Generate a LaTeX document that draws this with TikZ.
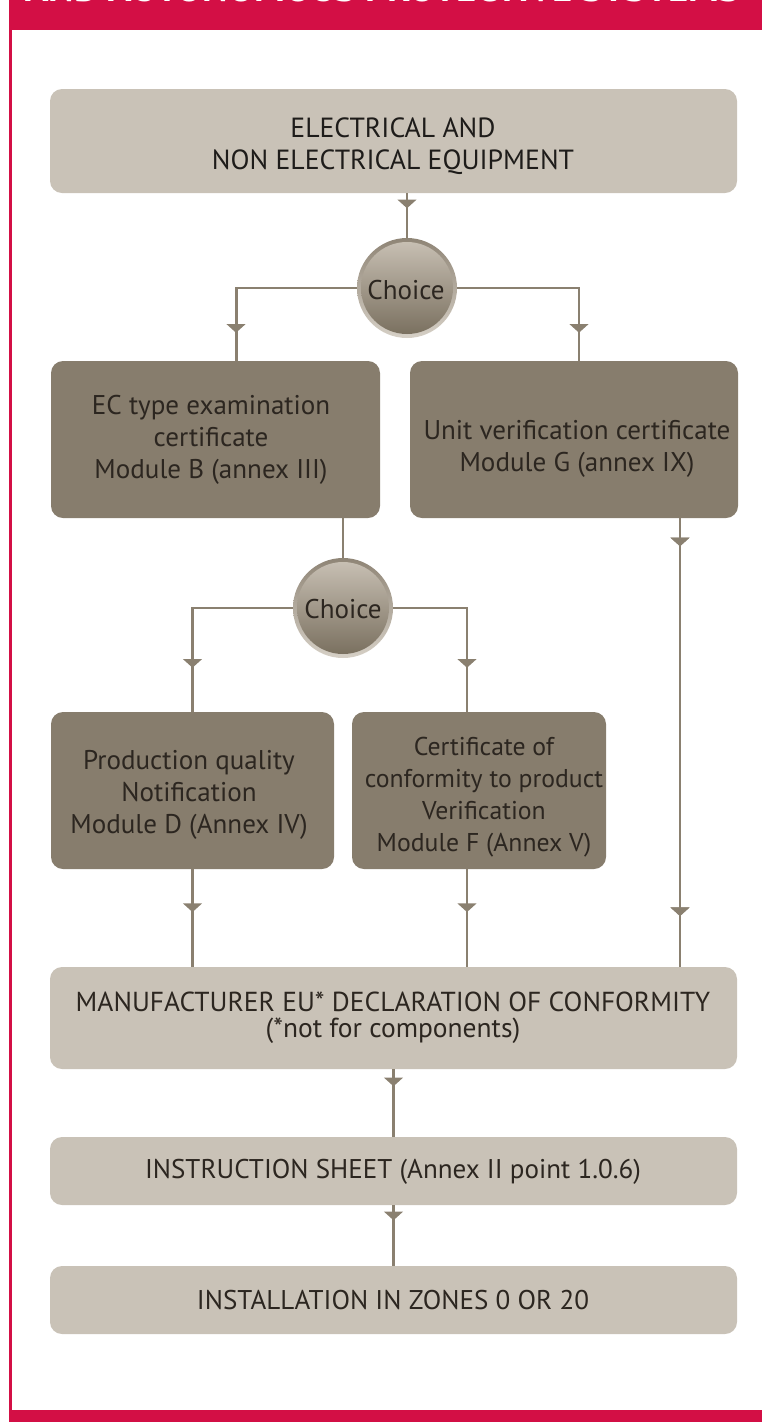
\documentclass[tikz,border=0pt]{standalone}
\usepackage{fontspec}
\setmainfont{PT Sans}
\usetikzlibrary{arrows.meta,decorations.markings}
\definecolor{hdr}{HTML}{D30F45}
\definecolor{lightbox}{HTML}{C9C2B7}
\definecolor{darkbox}{HTML}{877D6D}
\definecolor{wirecol}{HTML}{8A8070}
\definecolor{txt}{HTML}{2C2620}
\definecolor{toptxt}{HTML}{1E1C1A}
\definecolor{ringtop}{HTML}{8F8576}
\definecolor{ringbot}{HTML}{D6D0C6}
\definecolor{balltop}{HTML}{CAC2B6}
\definecolor{ballbot}{HTML}{776D5C}
\tikzset{
  lbox/.style={fill=lightbox, rounded corners=9pt, inner sep=0pt, minimum width=515.25pt},
  dbox/.style={fill=darkbox, rounded corners=9pt, inner sep=0pt, minimum height=117.75pt},
  lbl/.style={align=center, text=txt, inner sep=0pt, font=\fontsize{20.3}{24}\selectfont},
  choice/.style={circle, minimum size=75pt, inner sep=0pt, top color=ringtop, bottom color=ringbot,
    path picture={\shade[top color=balltop, bottom color=ballbot] (path picture bounding box.center) circle (34.5pt);}},
  wire/.style={draw=wirecol, line width=2.2pt},
  tipat/.style={postaction={decorate}, decoration={markings, mark=at position #1 with {\arrow{Triangle[width=14pt,length=6.5pt]}}}},
}
\begin{document}
\begin{tikzpicture}[x=0.75pt,y=-0.75pt]
\useasboundingbox (0,0) rectangle (762,1422);
\clip (0,0) rectangle (762,1422);
% frame
\fill[hdr] (9,0) rectangle (762,30);
\fill[hdr] (9,30) rectangle (11.5,1410);
\fill[hdr] (9,1410) rectangle (762,1422);
\node[anchor=base west, text=white, inner sep=0pt, font=\fontsize{29}{29}\bfseries\selectfont] (title) at (25,1.2) {AND AUTONOMOUS PROTECTIVE SYSTEMS};
% boxes
\node[lbox, minimum height=78pt] (top) at (393.5,141) {};
\node[choice] (c1) at (407,288) {};
\node[dbox, minimum width=246.75pt] (B) at (215.5,439.5) {};
\node[dbox, minimum width=246pt] (G) at (574,439.5) {};
\node[choice] (c2) at (343,608) {};
\node[dbox, minimum width=212.25pt] (D) at (192.5,790.5) {};
\node[dbox, minimum width=190.5pt] (F) at (479,790.5) {};
\node[lbox, minimum height=76.5pt] (M) at (393.5,1018) {};
\node[lbox, minimum height=51pt] (I) at (393.5,1171) {};
\node[lbox, minimum height=51pt] (Z) at (393.5,1300) {};
% texts
\node[lbl, text=toptxt, font=\fontsize{20.8}{24}\selectfont] (toptext) at (393,146) {ELECTRICAL AND\\NON ELECTRICAL EQUIPMENT};
\node[lbl] (c1text) at (406,290) {Choice};
\node[lbl] (Btext) at (211,440) {EC type examination\\certificate\\Module B (annex III)};
\node[lbl] (Gtext) at (577,449) {Unit verification certificate\\Module G (annex IX)};
\node[lbl] (c2text) at (343,609) {Choice};
\node[lbl] (Dtext) at (189,795) {Production quality\\Notification\\Module D (Annex IV)};
\node[lbl, font=\fontsize{19.3}{24}\selectfont] (Ftext) at (484,797) {Certificate of\\conformity to product\\Verification\\Module F (Annex V)};
\node[lbl, font=\fontsize{20.6}{19.5}\selectfont] (Mtext) at (393,1018) {MANUFACTURER EU* DECLARATION OF CONFORMITY\\(*not for components)};
\node[lbl] (Itext) at (393,1172) {INSTRUCTION SHEET (Annex II point 1.0.6)};
\node[lbl] (Ztext) at (393,1300) {INSTALLATION IN ZONES 0 OR 20};
% connectors
\draw[wire, tipat=11.25pt] (c1.north |- top.south) -- (c1.north);
\draw[wire, tipat=-21pt] (c1.west) -| ([xshift=15.4pt]B.north);
\draw[wire, tipat=-21pt] (c1.east) -| ([xshift=3.75pt]G.north);
\draw[wire] (c2.north |- B.south) -- (c2.north);
\draw[wire, tipat=-33pt] (c2.west) -| (D.north);
\draw[wire, tipat=-33pt] (c2.east) -| ([xshift=-9pt]F.north);
\draw[wire, tipat=-41pt] (D.south) -- (D.south |- M.north);
\draw[wire, tipat=-41pt] ([xshift=-9pt]F.south) -- ([xshift=-9pt]F.south |- M.north);
\draw[wire, tipat=21pt, tipat=-38pt] ([xshift=79.5pt]G.south) -- ([xshift=79.5pt]G.south |- M.north);
\draw[wire, tipat=12.75pt] (M.south) -- (I.north);
\draw[wire, tipat=11.25pt] (I.south) -- (Z.north);
\end{tikzpicture}
\end{document}
